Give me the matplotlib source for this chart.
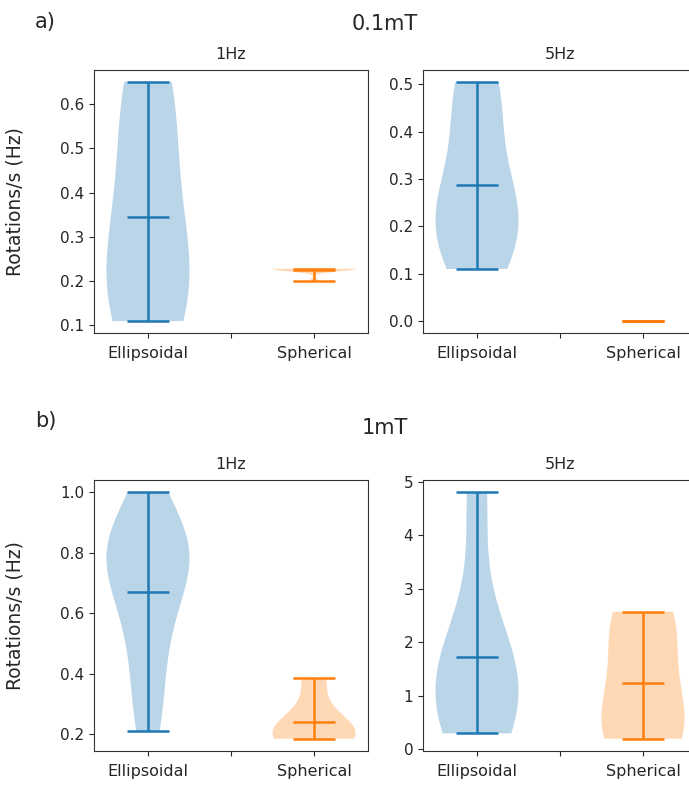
import numpy as np
import matplotlib
matplotlib.use("Agg")
import matplotlib.pyplot as plt

# rotations per second
labels = ["Ellipsoidal", "Spherical"]
freqs = ["1Hz", "5Hz"]

ell_01mT_1Hz = [0.11, 0.20, 0.26, 0.50, 0.65]
sph_01mT_1Hz = [0.20, 0.226, 0.227, 0.228, 0.228, 0.228, 0.228, 0.228, 0.228, 0.228]
ell_01mT_5Hz = [0.11, 0.17, 0.21, 0.24, 0.32, 0.46, 0.505]
sph_01mT_5Hz = [0.0, 0.0, 0.0, 0.0]

ell_1mT_1Hz = [0.21, 0.30, 0.42, 0.52, 0.60, 0.66, 0.72, 0.76, 0.79, 0.81, 0.83, 0.86, 0.90, 1.0]
sph_1mT_1Hz = [0.185, 0.19, 0.20, 0.245, 0.385]
ell_1mT_5Hz = [0.3, 0.8, 1.1, 1.3, 2.1, 4.8]
sph_1mT_5Hz = [0.2, 0.25, 1.0, 2.2, 2.57]

rows = [
    ("a)", "0.1mT", [(ell_01mT_1Hz, sph_01mT_1Hz), (ell_01mT_5Hz, sph_01mT_5Hz)]),
    ("b)", "1mT", [(ell_1mT_1Hz, sph_1mT_1Hz), (ell_1mT_5Hz, sph_1mT_5Hz)]),
]

W, H = 689, 787
fig = plt.figure(figsize=(W / 100, H / 100), dpi=100)

# axes boxes in pixels: (left, top, bottom)
boxes = [
    [(94, 70, 333), (423, 70, 333)],
    [(94, 480, 751), (423, 480, 751)],
]
ax_w = 274
txt = "#262626"

for r, (tag, field, panels) in enumerate(rows):
    for c, (ell, sph) in enumerate(panels):
        left, top, bottom = boxes[r][c]
        ax = fig.add_axes([left / W, 1 - bottom / H, ax_w / W, (bottom - top) / H])
        for pos, data, col in [(1, ell, "C0"), (2, sph, "C1")]:
            parts = ax.violinplot([data], positions=[pos], showmeans=True)
            for b in parts["bodies"]:
                b.set_facecolor(col)
                b.set_edgecolor("none")
                b.set_alpha(0.3)
            for key in ["cmins", "cmaxes", "cbars", "cmeans"]:
                parts[key].set_color(col)
                parts[key].set_linewidth(1.8)
        ax.set_xticks([1, 1.5, 2])
        ax.set_xticklabels([labels[0], "", labels[1]])
        ax.tick_params(axis="x", labelsize=11.5, colors=txt, pad=6)
        ax.tick_params(axis="y", labelsize=11, colors=txt)
        for s in ax.spines.values():
            s.set_color("#333333")
        ax.set_title(freqs[c], fontsize=11.5, color=txt, pad=8)
        if r == 1 and c == 1:
            ax.set_yticks([0, 1, 2, 3, 4, 5])
        if c == 0:
            ax.set_ylabel("Rotations/s (Hz)", fontsize=13.5, color=txt)
            ax.yaxis.set_label_coords(-0.252, 0.5)

fig.text(35 / W, 1 - 22 / H, "a)", fontsize=15, color=txt, va="center")
fig.text(385 / W, 1 - 24 / H, "0.1mT", fontsize=15, color=txt, ha="center", va="center")
fig.text(35 / W, 1 - 421 / H, "b)", fontsize=15, color=txt, va="center")
fig.text(385 / W, 1 - 428 / H, "1mT", fontsize=15, color=txt, ha="center", va="center")

fig.savefig("out.png", dpi=100)
